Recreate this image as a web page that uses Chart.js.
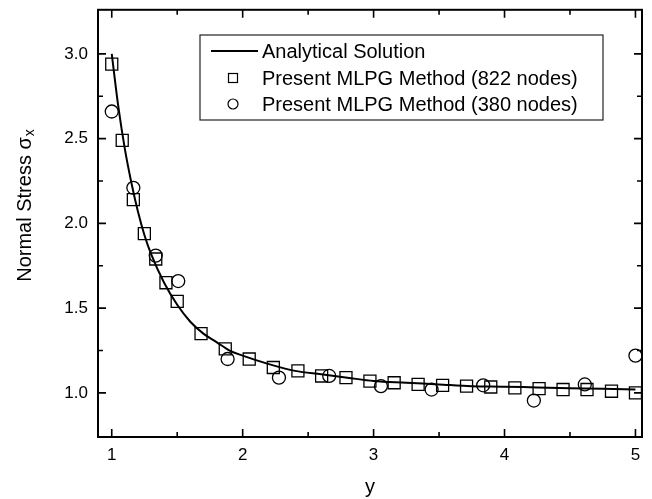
<!DOCTYPE html>
<html lang="en">
<head>
  <meta charset="UTF-8" />
  <title>Normal Stress</title>
  <script src="https://cdn.jsdelivr.net/npm/chart.js"></script>
  <style>
    body {
      margin: 0;
      padding: 0;
      background: #fff;
    }
    canvas {
      display: block;
    }
  </style>
</head>
<body>
  <canvas id="grafico" width="652" height="499"></canvas>

  <script>
    // Analytical curve
    const analyticX = [1.0, 1.05, 1.1, 1.15, 1.2, 1.25, 1.3, 1.4, 1.5, 1.6, 1.7, 1.8, 1.9, 2.0,
                       2.2, 2.4, 2.6, 2.8, 3.0, 3.25, 3.5, 3.75, 4.0, 4.25, 4.5, 4.75, 5.0];
    const analyticY = [3.0, 2.69, 2.44, 2.24, 2.07, 1.93, 1.82, 1.65, 1.52, 1.42, 1.35, 1.30, 1.25, 1.22,
                       1.17, 1.13, 1.11, 1.09, 1.07, 1.06, 1.05, 1.04, 1.037, 1.032, 1.028, 1.025, 1.02];

    // MLPG 822 nodes (squares)
    const nodes822X = [1.0, 1.08, 1.165, 1.249, 1.336, 1.414, 1.50, 1.682, 1.867, 2.05, 2.234, 2.422, 2.603,
                       2.789, 2.972, 3.157, 3.34, 3.527, 3.71, 3.895, 4.079, 4.264, 4.447, 4.63, 4.817, 5.0];
    const nodes822Y = [2.94, 2.49, 2.14, 1.94, 1.79, 1.65, 1.54, 1.35, 1.26, 1.20, 1.15, 1.13, 1.10,
                       1.09, 1.07, 1.06, 1.05, 1.045, 1.04, 1.035, 1.03, 1.025, 1.02, 1.02, 1.01, 1.0];

    // MLPG 380 nodes (circles)
    const nodes380X = [1.0, 1.165, 1.336, 1.508, 1.885, 2.277, 2.661, 3.056, 3.443, 3.837, 4.224, 4.613, 5.0];
    const nodes380Y = [2.66, 2.21, 1.81, 1.66, 1.20, 1.09, 1.10, 1.04, 1.02, 1.045, 0.955, 1.05, 1.22];

    const xTicks = [1, 2, 3, 4, 5];
    const xMinor = [1.5, 2.5, 3.5, 4.5];
    const yTicks = [1.0, 1.5, 2.0, 2.5, 3.0];
    const yMinor = [1.25, 1.75, 2.25, 2.75];

    const seriesLabels = [
      "Analytical Solution",
      "Present MLPG Method (822 nodes)",
      "Present MLPG Method (380 nodes)"
    ];

    const FONT = "'Liberation Sans', Arial, sans-serif";

    function toPoints(xs, ys) {
      return xs.map((x, i) => ({ x: x, y: ys[i] }));
    }

    // marco, ticks hacia adentro, titulo y y leyenda
    const marcoPlugin = {
      id: "marco",
      afterDraw(chart) {
        const { ctx, chartArea: a } = chart;
        const sx = chart.scales.x, sy = chart.scales.y;
        ctx.save();
        ctx.strokeStyle = "#000";
        ctx.lineWidth = 2;
        ctx.strokeRect(a.left, a.top, a.right - a.left, a.bottom - a.top);

        ctx.lineWidth = 1.6;
        ctx.beginPath();
        const tickX = (v, len) => {
          const px = sx.getPixelForValue(v);
          ctx.moveTo(px, a.bottom); ctx.lineTo(px, a.bottom - len);
          ctx.moveTo(px, a.top); ctx.lineTo(px, a.top + len);
        };
        const tickY = (v, len) => {
          const py = sy.getPixelForValue(v);
          ctx.moveTo(a.left, py); ctx.lineTo(a.left + len, py);
          ctx.moveTo(a.right, py); ctx.lineTo(a.right - len, py);
        };
        xTicks.forEach(v => tickX(v, 8));
        xMinor.forEach(v => tickX(v, 5));
        yTicks.forEach(v => tickY(v, 8));
        yMinor.forEach(v => tickY(v, 5));
        ctx.stroke();

        // titulo eje y con subindice
        ctx.translate(25, 206);
        ctx.rotate(-Math.PI / 2);
        ctx.fillStyle = "#000";
        ctx.textBaseline = "middle";
        const main = "Normal Stress \u03c3";
        ctx.font = "20px " + FONT;
        const w1 = ctx.measureText(main).width;
        ctx.font = "14px " + FONT;
        const w2 = ctx.measureText("x").width;
        const start = -(w1 + w2) / 2;
        ctx.font = "20px " + FONT;
        ctx.textAlign = "left";
        ctx.fillText(main, start, 0);
        ctx.font = "14px " + FONT;
        ctx.fillText("x", start + w1 + 1, 5);
        ctx.restore();

        // leyenda
        const bx = 200, by = 35, bw = 403, bh = 85;
        ctx.save();
        ctx.fillStyle = "#fff";
        ctx.fillRect(bx, by, bw, bh);
        ctx.strokeStyle = "#222";
        ctx.lineWidth = 1.2;
        ctx.strokeRect(bx, by, bw, bh);
        const rows = [51, 78, 104];
        ctx.strokeStyle = "#000";
        ctx.lineWidth = 2;
        ctx.beginPath();
        ctx.moveTo(211, rows[0]); ctx.lineTo(258, rows[0]);
        ctx.stroke();
        ctx.lineWidth = 1.2;
        ctx.strokeRect(233 - 4.5, rows[1] - 4.5, 9, 9);
        ctx.beginPath();
        ctx.arc(233, rows[2], 5, 0, Math.PI * 2);
        ctx.stroke();
        ctx.fillStyle = "#000";
        ctx.font = "20px " + FONT;
        ctx.textBaseline = "middle";
        ctx.textAlign = "left";
        seriesLabels.forEach((t, i) => ctx.fillText(t, 262, rows[i] + 1));
        ctx.restore();
      }
    };

    const ctx = document.getElementById("grafico").getContext("2d");

    new Chart(ctx, {
      type: "scatter",
      data: {
        datasets: [
          {
            label: seriesLabels[0],
            data: toPoints(analyticX, analyticY),
            showLine: true,
            borderColor: "#000",
            borderWidth: 2,
            pointRadius: 0,
            cubicInterpolationMode: "monotone",
            fill: false
          },
          {
            label: seriesLabels[1],
            data: toPoints(nodes822X, nodes822Y),
            pointStyle: "rect",
            pointRadius: 8.5,
            pointBorderWidth: 1.3,
            pointBorderColor: "#000",
            pointBackgroundColor: "rgba(0,0,0,0)"
          },
          {
            label: seriesLabels[2],
            data: toPoints(nodes380X, nodes380Y),
            pointStyle: "circle",
            pointRadius: 6.5,
            pointBorderWidth: 1.3,
            pointBorderColor: "#000",
            pointBackgroundColor: "rgba(0,0,0,0)"
          }
        ]
      },
      options: {
        responsive: false,
        animation: false,
        layout: { padding: { top: 4, right: 10, left: 0, bottom: 0 } },
        plugins: {
          legend: { display: false },
          tooltip: { enabled: false }
        },
        scales: {
          x: {
            type: "linear",
            min: 0.895,
            max: 5.05,
            afterFit(scale) {
              scale.height = 62;
              scale.paddingLeft = 0;
              scale.paddingRight = 0;
            },
            afterBuildTicks(scale) { scale.ticks = xTicks.map(v => ({ value: v })); },
            grid: { display: false, drawTicks: false },
            border: { display: false },
            ticks: {
              color: "#000",
              padding: 8,
              font: { family: FONT, size: 17 },
              callback: v => String(v)
            },
            title: {
              display: true,
              text: "y",
              color: "#000",
              font: { family: FONT, size: 20 },
              padding: { top: 0, bottom: 0 }
            }
          },
          y: {
            type: "linear",
            min: 0.74,
            max: 3.26,
            afterFit(scale) {
              scale.width = 98;
              scale.paddingTop = 0;
              scale.paddingBottom = 0;
            },
            afterBuildTicks(scale) { scale.ticks = yTicks.map(v => ({ value: v })); },
            grid: { display: false, drawTicks: false },
            border: { display: false },
            ticks: {
              color: "#000",
              padding: 10,
              font: { family: FONT, size: 17 },
              callback: v => v.toFixed(1)
            }
          }
        }
      },
      plugins: [marcoPlugin]
    });
  </script>
</body>
</html>
